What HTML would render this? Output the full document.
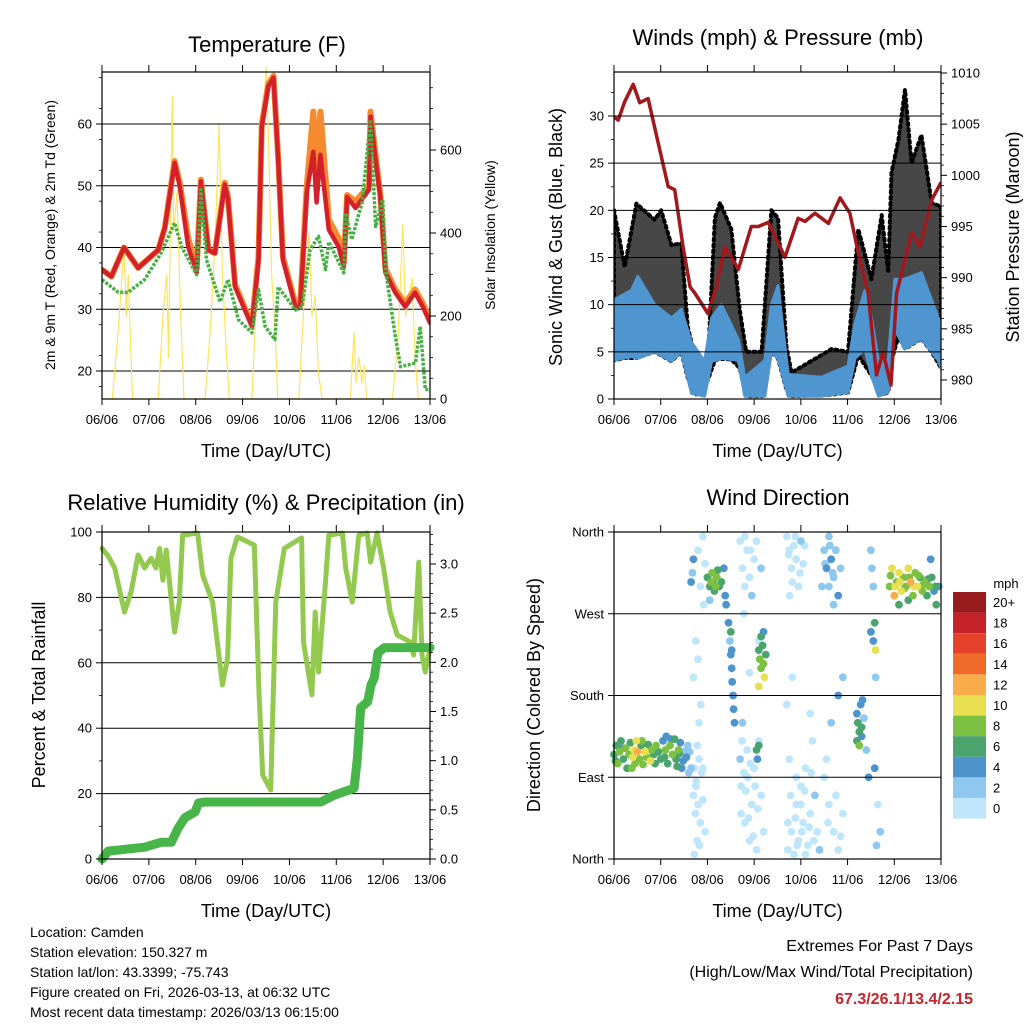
<!DOCTYPE html>
<html><head><meta charset="utf-8"><style>
html,body{margin:0;padding:0;background:#fff}
svg{display:block;font-family:"Liberation Sans",sans-serif}
</style></head><body>
<svg id="c" width="1024" height="1024" viewBox="0 0 1024 1024" xmlns="http://www.w3.org/2000/svg"></svg>
<script>
// ---------- DATA ----------
const dayLabels = ["06/06","07/06","08/06","09/06","10/06","11/06","12/06","13/06"];
const tDays = [0,0.2,0.47,0.77,1.2,1.34,1.55,1.66,1.84,2.02,2.11,2.27,2.41,2.62,2.69,2.84,3.2,3.34,3.41,3.55,3.66,3.76,3.86,4.13,4.23,4.37,4.51,4.58,4.66,4.84,5.05,5.16,5.23,5.41,5.7,5.73,5.84,5.94,6.05,6.26,6.47,6.68,6.86,7.0];
const tempRed = [36.4,35.3,40,36.7,39.6,43.2,53.7,49.9,40.1,35.9,50.7,39.6,39.1,50.2,47.8,33.6,27.2,38,59.6,66.1,67.5,54.2,38,30.4,30.4,48.9,55.5,47.3,55,42.9,40.1,36.9,48.2,46.4,49.4,61.2,54.2,48.2,35.9,32.7,30.4,32.7,30.2,27.8];
const tempOrange = [36.4,35.3,40,36.7,39.6,43.2,54,50.5,41.5,36.5,51,39.6,39.1,50.5,48.2,34,27.5,38.5,60,66.5,67.8,54.5,38.5,30.8,30.8,50,62,52,62,44.5,41.5,37.5,48.5,47.5,50,62,55,48.5,36.5,33.2,31,33.2,30.8,28.2];
const tdDays = [0,0.34,0.55,0.91,1.26,1.55,1.7,2.02,2.11,2.23,2.52,2.69,2.91,3.2,3.34,3.48,3.69,3.76,4.13,4.27,4.44,4.62,4.77,4.84,5.16,5.2,5.33,5.55,5.73,5.84,5.99,6.06,6.26,6.37,6.69,6.79,6.9,7.0];
const dewGreen = [34.8,32.8,32.7,34.8,39.1,44,40.1,35.6,49.4,38,31.2,34.8,28.3,26.2,33.2,27.2,25.1,33.6,29.9,30.4,39.6,41.8,36.4,40.9,35.9,45.6,41.3,47.3,60.7,43.4,47.8,35.9,25.6,20.7,21.3,27.2,17,17];
const solarDays = [0,0.22,0.35,0.47,0.52,0.56,0.65,1.2,1.3,1.38,1.42,1.5,1.53,1.6,1.68,1.75,2.2,2.32,2.42,2.5,2.57,2.66,2.72,3.2,3.32,3.42,3.5,3.55,3.62,3.7,3.75,4.2,4.32,4.42,4.48,4.55,4.62,4.7,5.3,5.38,5.42,5.48,5.55,5.6,5.65,6.2,6.32,6.42,6.48,6.55,6.62,6.68,6.75,7.0];
const solarVals = [0,0,170,366,200,300,0,0,200,300,100,730,400,500,200,0,0,180,400,660,300,100,0,0,300,600,800,650,300,150,0,0,250,400,200,250,60,0,0,160,40,100,40,80,0,0,150,420,200,250,290,100,0,0];

const pDays = [0,0.09,0.23,0.41,0.55,0.73,0.87,1.16,1.3,1.48,1.63,1.73,2.01,2.19,2.37,2.55,2.66,2.94,3.09,3.3,3.66,3.94,4.09,4.3,4.59,4.84,5.05,5.23,5.44,5.62,5.76,5.93,6.05,6.23,6.37,6.55,6.66,6.8,7.0];
const pressure = [1005.7,1005.4,1007.2,1008.9,1007.1,1007.5,1004.7,998.9,998.6,993,989.1,988.5,986.5,989.1,993,991.7,990.8,995,995,995.4,992,995.8,995.5,996.3,995.3,997.8,996.3,992.4,988.5,980.5,982.7,979.5,988.5,991.7,994.4,993,995,997.6,999.3];
const wDays = [0,0.37,0.51,0.87,1.23,1.44,1.66,1.94,2.09,2.3,2.66,2.8,3.23,3.37,3.51,3.73,4.44,5.01,5.16,5.37,5.51,5.66,5.87,6.01,6.22,6.58,6.94,7.0];
const windLow = [4.1,4.5,4.3,5,4,5,0.6,0.3,4,4.3,4.1,0.3,0.3,5,4.3,0.3,0.3,0.7,4.3,5.3,2.5,0.3,0.7,7.5,5.3,6.4,4.1,3.3];
const windHigh = [10.5,11.5,13,10,8.6,9.5,6,4,8.6,10,6.3,2.3,4.1,10,12,2.6,2.3,3.5,8,11.5,8.6,4.1,4.1,12.7,12.7,13.4,8.6,7.6];
const gDays = [0,0.23,0.48,0.87,1.01,1.23,1.44,1.58,1.76,2.01,2.16,2.27,2.51,2.69,2.83,3.16,3.37,3.51,3.69,3.8,4.66,5.01,5.23,5.51,5.73,5.87,5.94,6.09,6.23,6.37,6.58,6.8,7.0];
const gustHigh = [20,14,20.7,19,20,16.3,16.5,7.6,4,4,19.2,20.8,18,9.5,5,5,20,19.2,5.6,2.8,5.3,5,18,12.7,19.5,13.4,24,27.5,32.8,25,28,20.8,20.4];

const rhDays = [0,0.13,0.27,0.48,0.62,0.77,0.91,1.05,1.15,1.23,1.3,1.37,1.55,1.65,1.72,2.04,2.15,2.36,2.57,2.68,2.75,2.89,3.25,3.35,3.43,3.6,3.71,3.89,4.26,4.3,4.48,4.55,4.62,4.77,4.84,5.13,5.2,5.34,5.48,5.66,5.73,5.87,6.01,6.15,6.3,6.58,6.65,6.76,6.83,6.9,7.0];
const rh = [95,92.7,89,75.5,81.7,93,89,92,89,95,85.3,94.5,69.4,78.6,99,99.7,86.8,78.6,53.2,61.5,92,98.5,96,51,25.7,21.1,78.6,95,98.2,66.4,50.2,75.5,57.2,84.7,99,99.7,89,78.6,99,99.7,90.8,99.7,89,75.5,68.5,66.4,62.4,90.8,62.4,57.2,64.5];
const prDays = [0,0.13,0.91,1.26,1.48,1.62,1.77,1.99,2.06,2.2,4.67,4.96,5.38,5.45,5.52,5.67,5.74,5.81,5.89,6.03,7.0];
const precip = [0,0.08,0.12,0.17,0.17,0.31,0.42,0.48,0.57,0.58,0.58,0.65,0.72,1.03,1.54,1.6,1.77,1.84,2.1,2.15,2.15];

const dirPts = [[0.0,115,7],[0.05,125,6],[0.08,105,8],[0.12,118,9],[0.15,130,6],[0.2,110,7],[0.25,122,8],[0.28,100,6],[0.32,115,9],[0.35,128,7],[0.4,112,10],[0.43,120,11],[0.45,105,9],[0.48,130,10],[0.5,118,12],[0.55,110,8],[0.58,125,7],[0.62,104,9],[0.66,118,10],[0.7,112,8],[0.73,126,6],[0.78,108,10],[0.8,120,9],[0.85,115,7],[0.9,125,8],[0.95,118,6],[1.0,110,7],[1.05,130,5],[1.1,120,8],[1.12,135,4],[1.15,105,7],[1.2,125,8],[1.25,115,9],[1.3,132,7],[1.33,110,6],[1.38,120,8],[1.42,128,5],[1.45,100,4],[1.5,118,3],[1.55,112,4],[1.6,95,2],[1.58,125,3],
[0.03,108,6],[0.18,122,5],[0.38,100,8],[0.6,130,9],[0.88,105,6],[1.08,112,6],[1.22,132,5],[1.35,102,7],[1.4,116,6],[1.48,108,5],[1.62,118,3],[1.65,100,2],
[1.75,80,1],[1.8,60,1],[1.85,40,0],[1.78,20,1],[1.72,5,0],[1.9,100,1],[1.82,150,1],[1.86,170,0],[1.8,220,1],[1.75,240,0],[1.85,300,1],[1.8,340,1],[1.9,355,0],[1.7,330,4],[1.68,315,3],[1.65,305,4],[1.95,325,1],[1.92,280,1],[1.7,200,1],[1.95,30,1],
[1.72,100,1],[1.76,85,0],[1.7,70,1],[1.82,110,1],[1.88,95,0],[1.74,50,1],[1.83,15,0],[1.78,125,1],[1.9,65,1],
[2.0,310,6],[2.05,300,7],[2.1,315,8],[2.12,305,7],[2.15,295,6],[2.2,310,8],[2.25,300,7],[2.3,305,6],[2.35,320,5],[2.38,290,4],[2.4,280,4],[2.05,285,3],[2.08,305,8],[2.18,300,8],[2.22,318,6],
[2.45,260,4],[2.48,240,3],[2.5,225,4],[2.52,210,5],[2.53,195,4],[2.55,180,5],[2.56,165,4],[2.58,150,4],[2.5,250,6],[2.52,230,5],
[2.7,350,1],[2.75,320,1],[2.8,300,0],[2.78,270,0],[2.85,340,1],[2.9,310,1],[2.95,290,2],[3.0,330,1],[3.05,350,0],[2.72,80,1],[2.8,40,0],[2.9,20,1],[2.95,60,0],[3.0,100,1],[3.05,10,0],[3.1,130,1],[2.75,150,2],[2.85,120,1],[3.15,70,0],[3.2,30,1],[2.9,205,1],[3.1,240,1],[3.15,320,2],[2.7,110,2],
[2.72,50,0],[2.78,95,1],[2.82,75,0],[2.88,45,1],[2.98,25,0],[3.08,55,1],[2.74,130,0],[2.86,90,0],[2.92,105,1],[3.02,80,1],[2.8,355,1],[2.92,340,1],
[3.1,230,6],[3.12,220,8],[3.15,210,9],[3.18,235,7],[3.2,215,8],[3.22,200,10],[3.25,225,6],[3.1,190,10],[3.15,245,6],[3.2,250,5],[3.05,120,6],[3.07,110,5],[3.1,125,6],
[3.7,355,0],[3.75,340,1],[3.8,320,0],[3.85,345,1],[3.9,330,0],[3.95,300,1],[4.0,350,2],[4.05,325,1],[3.72,10,0],[3.8,30,1],[3.85,5,0],[3.9,60,1],[3.95,20,0],[4.0,80,1],[4.05,40,0],[4.1,100,1],[4.15,15,1],[4.2,50,0],[3.75,110,1],[3.9,90,0],[4.25,130,1],[4.3,70,2],[4.35,30,1],[4.4,10,2],[3.7,170,1],[4.2,160,1],[4.45,300,2],[3.82,200,1],[4.0,60,0],[4.1,5,1],
[3.72,40,0],[3.78,70,1],[3.88,45,0],[3.92,15,1],[4.02,30,0],[4.08,75,1],[4.18,35,0],[4.22,95,1],[4.28,20,1],[3.74,335,0],[3.82,305,1],[3.88,355,0],[3.98,315,1],[4.08,345,1],[3.76,290,1],
[4.5,340,3],[4.55,320,4],[4.6,300,3],[4.65,330,4],[4.7,310,2],[4.75,340,3],[4.8,290,4],[4.6,355,2],[4.7,280,3],[4.85,320,2],[4.5,90,1],[4.6,60,1],[4.7,30,1],[4.8,10,1],[4.9,50,1],[4.65,150,2],[4.8,180,4],[4.9,200,3],[4.55,110,1],
[4.52,325,2],[4.62,345,3],[4.68,315,2],[4.58,40,1],[4.75,70,1],[4.85,25,1],
[5.2,160,5],[5.22,150,6],[5.25,140,7],[5.28,170,4],[5.3,135,5],[5.32,175,4],[5.35,155,3],[5.4,120,2],[5.45,90,4],[5.2,130,6],[5.25,125,8],[5.3,145,7],
[5.5,250,4],[5.55,240,5],[5.58,260,6],[5.6,230,10],[5.52,320,2],[5.55,300,2],[5.6,200,2],[5.65,60,1],[5.7,30,2],[5.58,100,4],[5.62,15,2],[5.5,340,2],
[5.9,300,8],[5.95,320,10],[6.0,290,12],[6.05,305,9],[6.1,315,11],[6.15,295,10],[6.2,310,8],[6.25,300,9],[6.3,320,10],[6.35,305,12],[6.4,290,8],[6.45,315,9],[6.5,300,10],[6.55,310,7],[6.6,295,8],[6.65,305,9],[6.7,290,6],[6.75,300,8],[6.8,310,7],[6.85,295,5],[6.9,280,6],[6.95,300,5],[6.78,330,4],[6.1,280,6],[6.3,285,7],
[5.92,312,9],[6.02,300,10],[6.12,305,10],[6.22,298,9],[6.32,310,8],[6.42,300,10],[6.52,312,9],[6.62,302,8],[6.72,308,7],[6.88,300,7]];
const cbLabels = ["20+","18","16","14","12","10","8","6","4","2","0"];
const cbColors = ["#981c1e","#c5232a","#e4422a","#f06a2c","#f8ac4a","#e8e050","#7dc142","#4ba46d","#4d94cc","#8ec8ee","#bfe6fb"];

// ---------- HELPERS ----------
const svg = document.getElementById('c');
const NS = "http://www.w3.org/2000/svg";
function mk(tag, attrs, parent){ const e=document.createElementNS(NS,tag); for(const k in attrs) e.setAttribute(k,attrs[k]); (parent||svg).appendChild(e); return e; }
function txt(s,x,y,size,anchor,parent,extra){ const t=mk('text',Object.assign({x:x,y:y,'font-size':size,'text-anchor':anchor||'middle',fill:'#000'},extra||{}),parent); t.textContent=s; return t; }
function lin(d0,d1,r0,r1){ return v => r0+(v-d0)*(r1-r0)/(d1-d0); }
function pathOf(xs,ys,fx,fy){ return xs.map((d,i)=>(i?'L':'M')+fx(d).toFixed(1)+','+fy(ys[i]).toFixed(1)).join(''); }
function bandOf(xs,lo,hi,fx,fy){ let s=xs.map((d,i)=>(i?'L':'M')+fx(d).toFixed(1)+','+fy(hi[i]).toFixed(1)).join(''); for(let i=xs.length-1;i>=0;i--) s+='L'+fx(xs[i]).toFixed(1)+','+fy(lo[i]).toFixed(1); return s+'Z'; }
function xAxis(g,x0,x1,y0,y1){
  const fx=lin(0,7,x0,x1);
  dayLabels.forEach((lab,i)=>{
    mk('line',{x1:fx(i),x2:fx(i),y1:y1,y2:y1+6,stroke:'#000','stroke-width':1},g);
    mk('line',{x1:fx(i),x2:fx(i),y1:y0,y2:y0-7,stroke:'#000','stroke-width':1},g);
    const t=txt(lab,fx(i),y1+25,13,'middle',g);
     
  });
  const tt=txt("Time (Day/UTC)",(x0+x1)/2,y1+58,18,'middle',g);
   
  return fx;
}
function frame(g,x0,x1,y0,y1){ mk('rect',{x:x0,y:y0,width:x1-x0,height:y1-y0,fill:'none',stroke:'#000','stroke-width':1.2},g); }
function yTicks(g,x,vals,fy,side,labels,minor){
  const dir = side==='left'?-1:1;
  vals.forEach((v,i)=>{
    mk('line',{x1:x,x2:x+dir*6,y1:fy(v),y2:fy(v),stroke:'#000','stroke-width':1},g);
    if(labels){ const t=txt(labels[i],x+dir*10,fy(v)+4.5,13,side==='left'?'end':'start',g);
        }
  });
  (minor||[]).forEach(v=>mk('line',{x1:x,x2:x+dir*3,y1:fy(v),y2:fy(v),stroke:'#000','stroke-width':0.8},g));
}
function grid(g,x0,x1,vals,fy){ vals.forEach(v=>mk('line',{x1:x0,x2:x1,y1:fy(v),y2:fy(v),stroke:'#000','stroke-width':1},g)); }
function rotTitle(g,s,x,y,size){ const t=txt(s,x,y,size,'middle',g,{transform:`rotate(-90 ${x} ${y})`}); return t; }
function range(a,b,s){ const r=[]; for(let v=a;v<=b+1e-9;v+=s) r.push(+v.toFixed(3)); return r; }

// ---------- PANEL 1: TEMPERATURE ----------
(function(){
  const g=mk('g',{});  
  const X0=102,X1=430,Y0=72,Y1=399;
  const fy=lin(20,60,371,124), fs=lin(0,600,399,150);
  const t=txt("Temperature (F)",267,52,22,'middle',g);  
  grid(g,X0,X1,[20,30,40,50,60],fy);
  const cp='clipT'; const cl=mk('clipPath',{id:cp},g); mk('rect',{x:X0,y:Y0-8,width:X1-X0,height:Y1-Y0+8},cl);
  const fx=lin(0,7,X0,X1);
  const pg=mk('g',{'clip-path':`url(#${cp})`},g);
  const s=mk('path',{d:pathOf(solarDays,solarVals,fx,fs),fill:'none',stroke:'#ffe35a','stroke-width':1.2,'stroke-linejoin':'round'},pg);
   
  const o=mk('path',{d:pathOf(tDays,tempOrange,fx,fy),fill:'none',stroke:'#f58a2e','stroke-width':6,'stroke-linejoin':'round','stroke-linecap':'round'},pg);
   
  const r=mk('path',{d:pathOf(tDays,tempRed,fx,fy),fill:'none',stroke:'#d4202a','stroke-width':4.5,'stroke-linejoin':'round','stroke-linecap':'round'},pg);
   
  const d=mk('path',{d:pathOf(tdDays,dewGreen,fx,fy),fill:'none',stroke:'#46b043','stroke-width':3.5,'stroke-dasharray':'3 1.5','stroke-linejoin':'round'},pg);
   
  frame(g,X0,X1,Y0,Y1);
  xAxis(g,X0,X1,Y0,Y1);
  yTicks(g,X0,[20,30,40,50,60],fy,'left',["20","30","40","50","60"],range(17.5,67.5,5).filter(v=>v%10));
  yTicks(g,X1,[0,200,400,600],fs,'right',["0","200","400","600"],range(50,750,50).filter(v=>v%200));
  const a=rotTitle(g,"2m & 9m T (Red, Orange) & 2m Td (Green)",55,235,14);  
  const b=rotTitle(g,"Solar Insolation (Yellow)",495,235,14);  
})();

// ---------- PANEL 2: WINDS & PRESSURE ----------
(function(){
  const g=mk('g',{});  
  const X0=614,X1=941,Y0=72,Y1=399;
  const fy=lin(0,30,399,116), fp=lin(980,1010,380,73);
  const t=txt("Winds (mph) & Pressure (mb)",778,45,22,'middle',g);  
  const fx=lin(0,7,X0,X1);
  const cp='clipW'; const cl=mk('clipPath',{id:cp},g); mk('rect',{x:X0,y:Y0,width:X1-X0,height:Y1-Y0},cl);
  const pg=mk('g',{'clip-path':`url(#${cp})`},g);
  const gLow = gDays.map(d=>{ let i=0; while(i<wDays.length-2 && wDays[i+1]<d) i++; const f=(d-wDays[i])/(wDays[i+1]-wDays[i]); return windLow[i]+(windLow[i+1]-windLow[i])*Math.max(0,Math.min(1,f)); });
  const gb=mk('path',{d:bandOf(gDays,gLow,gustHigh,fx,fy),fill:'#000','fill-opacity':0.72,stroke:'#000','stroke-width':4,'stroke-dasharray':'2 4','stroke-linecap':'round','stroke-linejoin':'round'},pg);
   
  const wb=mk('path',{d:bandOf(wDays,windLow,windHigh,fx,fy),fill:'#4f95d0',stroke:'#4f95d0','stroke-width':3,'stroke-linejoin':'round'},pg);
   
  grid(g,X0,X1,[5,10,15,20,25,30],fy);
  const p=mk('path',{d:pathOf(pDays,pressure,fx,fp),fill:'none',stroke:'#a3181c','stroke-width':3.5,'stroke-linejoin':'round'},pg);
   
  frame(g,X0,X1,Y0,Y1);
  xAxis(g,X0,X1,Y0,Y1);
  yTicks(g,X0,[0,5,10,15,20,25,30],fy,'left',["0","5","10","15","20","25","30"],range(2.5,32.5,5));
  yTicks(g,X1,[980,985,990,995,1000,1005,1010],fp,'right',["980","985","990","995","1000","1005","1010"],range(981,1009,1).filter(v=>v%5));
  const a=rotTitle(g,"Sonic Wind & Gust (Blue, Black)",562,237,18);  
  const b=rotTitle(g,"Station Pressure (Maroon)",1019,237,18);  
})();

// ---------- PANEL 3: RH & PRECIP ----------
(function(){
  const g=mk('g',{});  
  const X0=102,X1=430,Y0=532,Y1=859;
  const fy=lin(0,100,859,532), fr=lin(0,3,859,564);
  const t=txt("Relative Humidity (%) & Precipitation (in)",266,510,22,'middle',g);  
  grid(g,X0,X1,[20,40,60,80],fy);
  const fx=lin(0,7,X0,X1);
  const cp='clipR'; const cl=mk('clipPath',{id:cp},g); mk('rect',{x:X0-8,y:Y0-4,width:X1-X0+16,height:Y1-Y0+12},cl);
  const pg=mk('g',{'clip-path':`url(#${cp})`},g);
  const h=mk('path',{d:pathOf(rhDays,rh,fx,fy),fill:'none',stroke:'#93c94f','stroke-width':5,'stroke-linejoin':'round','stroke-linecap':'round'},pg);
   
  const pr=mk('path',{d:pathOf(prDays,precip,fx,fr),fill:'none',stroke:'#48b54a','stroke-width':9,'stroke-linejoin':'round','stroke-linecap':'round'},pg);
   
  frame(g,X0,X1,Y0,Y1);
  xAxis(g,X0,X1,Y0,Y1);
  yTicks(g,X0,[0,20,40,60,80,100],fy,'left',["0","20","40","60","80","100"],range(10,90,20));
  yTicks(g,X1,[0,0.5,1,1.5,2,2.5,3],fr,'right',["0.0","0.5","1.0","1.5","2.0","2.5","3.0"],range(0.1,3.3,0.1).filter(v=>Math.abs(v*2-Math.round(v*2))>0.01));
  const a=rotTitle(g,"Percent & Total Rainfall",45,695,18);  
})();

// ---------- PANEL 4: WIND DIRECTION ----------
(function(){
  const g=mk('g',{});  
  const X0=614,X1=941,Y0=532,Y1=859;
  const fy=lin(0,360,859,532);
  const t=txt("Wind Direction",778,505,22,'middle',g);  
  const fx=lin(0,7,X0,X1);
  function col(s){ const i=Math.min(10,Math.floor(s/2)); return cbColors[10-i]; }
  const sorted=dirPts.slice().sort((a,b)=>a[2]-b[2]);
  sorted.forEach(p=>{
    const c=mk('circle',{cx:fx(p[0]).toFixed(1),cy:fy(p[1]).toFixed(1),r:3.9,fill:col(p[2])},g);
    
    
  });
  grid(g,X0,X1,[90,180,270],fy);
  frame(g,X0,X1,Y0,Y1);
  xAxis(g,X0,X1,Y0,Y1);
  yTicks(g,X0,[0,90,180,270,360],fy,'left',["North","East","South","West","North"],[]);
  const a=rotTitle(g,"Direction (Colored By Speed)",540,695,18);  
  const cb=mk('g',{},svg);  
  txt("mph",1006,588,13,'middle',cb);
  cbLabels.forEach((l,i)=>{
    const y=592+i*20.6;
    mk('rect',{x:953,y:y,width:33,height:20.6,fill:cbColors[i]},cb);
    txt(l,993,y+15,13,'start',cb);
  });
})();

// ---------- FOOTER ----------
(function(){
  const g=mk('g',{});  
  ["Location: Camden","Station elevation: 150.327 m","Station lat/lon: 43.3399; -75.743","Figure created on Fri, 2026-03-13, at 06:32 UTC","Most recent data timestamp: 2026/03/13 06:15:00"].forEach((s,i)=>txt(s,30,937+i*20,14,'start',g));
  const e=mk('g',{});  
  txt("Extremes For Past 7 Days",973,951,16,'end',e);
  txt("(High/Low/Max Wind/Total Precipitation)",973,977,16,'end',e);
  txt("67.3/26.1/13.4/2.15",973,1004,16,'end',e,{fill:'#c8232a','font-weight':'bold'});
})();
</script>
</body></html>
